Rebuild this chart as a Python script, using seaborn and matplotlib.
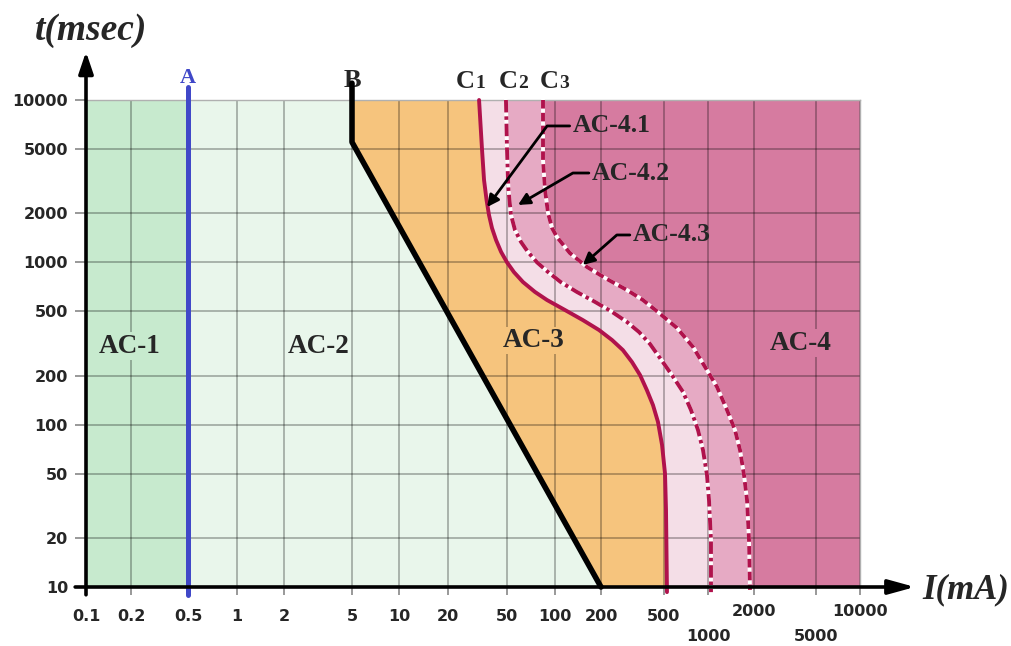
import numpy as np
import seaborn as sns
import matplotlib.pyplot as plt
from matplotlib.ticker import NullLocator

# axis ticks
I_TICKS = [0.1, 0.2, 0.5, 1, 2, 5, 10, 20, 50, 100, 200, 500, 1000, 2000, 5000, 10000]
I_LABELS = ["0.1", "0.2", "0.5", "1", "2", "5", "10", "20", "50", "100", "200", "500",
            "1000", "2000", "5000", "10000"]
T_TICKS = [10, 20, 50, 100, 200, 500, 1000, 2000, 5000, 10000]

# the current axis of the original is a hand-spaced log scale:
# where each tick sits along the axis (0 = left edge, 774 = right edge)
I_TICK_SPACING = [0, 45, 102, 151, 198, 266, 313, 362, 421, 469, 515, 578, 622, 668, 730, 774]

# boundary curves, current I (mA) vs time t (ms)
A_I = [0.5, 0.5]
A_T = [8.9, 12000]
B_I = [5, 5, 200]
B_T = [12700, 5500, 10]
C1_I = [32.4, 33.9, 35.0, 36.4, 37.8, 39.6, 42.2, 45.6, 50, 55.3, 63.0, 74.9, 89.1, 116, 152,
        194, 235, 275, 314, 353, 390, 426, 458, 486, 508, 516, 524]
C1_T = [10000, 5000, 3216, 2421, 1956, 1627, 1370, 1160, 1000, 870, 756, 657, 586, 509, 441,
        383, 332, 288, 243, 202, 163, 132, 104, 75, 50, 30, 9.3]
C2_I = [49.2, 50, 50.6, 51.1, 52.0, 53.0, 56.1, 61.2, 67.7, 77.1, 90.4, 109, 139, 183, 235,
        292, 348, 408, 472, 567, 675, 765, 854, 924, 984, 1015, 1046, 1046]
C2_T = [10000, 5000, 3460, 2790, 2330, 1956, 1582, 1335, 1158, 1000, 872, 756, 657, 570, 495,
        429, 372, 314, 257, 202, 159, 123, 92.7, 69.8, 49, 34.4, 19.5, 9.3]
C3_I = [84.1, 84.1, 86.6, 90.4, 95.8, 103, 125, 162, 218, 292, 368, 465, 614, 790, 954,
        1145, 1332, 1502, 1620, 1720, 1800, 1855, 1883]
C3_T = [10000, 4270, 2790, 2014, 1627, 1432, 1142, 936, 789, 675, 586, 488, 394, 301, 227,
        171, 123, 92.7, 69.8, 49, 34.4, 19.5, 9.6]

# zone labels
ZONES = ["AC-1", "AC-2", "AC-3", "AC-4"]
ZONE_I = [0.197, 3.2, 73, 4000]
ZONE_T = [305, 305, 330, 318]

COL_AC1 = "#c7eace"
COL_AC2 = "#e9f6eb"
COL_AC3 = "#f6c47d"
COL_AC41 = "#f4dee7"
COL_AC42 = "#e6aac4"
COL_AC4 = "#d67ba0"
COL_C = "#b0124c"
COL_A = "#4048c8"

# piecewise log scale through the tick positions, extended linearly outside
_log_t = np.concatenate([[-7], np.log10(I_TICKS), [10]])
_pos_t = np.concatenate([[-6 * 154.8], I_TICK_SPACING, [774 + 6 * 154.8]])


def i_forward(v):
    return np.interp(np.log10(np.clip(v, 1e-7, None)), _log_t, _pos_t)


def i_inverse(p):
    return 10 ** np.interp(p, _pos_t, _log_t)


sns.set_style("white")
plt.rcParams["font.family"] = ["Liberation Serif", "DejaVu Serif"]

fig = plt.figure(figsize=(10.11, 6.46), dpi=100)
ax = fig.add_axes([86 / 1011, 59 / 646, 774 / 1011, 487 / 646])
ax.set_xscale("function", functions=(i_forward, i_inverse))
ax.set_yscale("log")

# coloured zones
ax.axvspan(I_TICKS[0], A_I[0], color=COL_AC1, lw=0, zorder=0.2)
ax.fill(A_I + B_I, A_T + B_T, color=COL_AC2, lw=0, zorder=0.2)
ax.fill(B_I + C1_I[::-1], B_T + C1_T[::-1], color=COL_AC3, lw=0, zorder=0.2)
ax.fill(C1_I + C2_I[::-1], C1_T + C2_T[::-1], color=COL_AC41, lw=0, zorder=0.2)
ax.fill(C2_I + C3_I[::-1], C2_T + C3_T[::-1], color=COL_AC42, lw=0, zorder=0.2)
ax.fill(C3_I + [I_TICKS[-1], I_TICKS[-1]], C3_T + [T_TICKS[0], T_TICKS[-1]],
        color=COL_AC4, lw=0, zorder=0.2)

# boundary lines
sns.lineplot(x=A_I, y=A_T, sort=False, estimator=None, ax=ax, color=COL_A, linewidth=3.6,
             clip_on=False, zorder=4, solid_capstyle="round")
sns.lineplot(x=B_I, y=B_T, sort=False, estimator=None, ax=ax, color="black", linewidth=4,
             clip_on=False, zorder=4)
sns.lineplot(x=C1_I, y=C1_T, sort=False, estimator=None, ax=ax, color=COL_C, linewidth=2.8,
             clip_on=False, zorder=4)
sns.lineplot(x=C2_I, y=C2_T, sort=False, estimator=None, ax=ax, color="white", linewidth=2.8,
             clip_on=False, zorder=4)
sns.lineplot(x=C2_I, y=C2_T, sort=False, estimator=None, ax=ax, color=COL_C, linewidth=2.8,
             clip_on=False, zorder=4.1, linestyle=(0, (3.2, 1.0, 0.9, 1.0)))
sns.lineplot(x=C3_I, y=C3_T, sort=False, estimator=None, ax=ax, color="white", linewidth=2.8,
             clip_on=False, zorder=4)
sns.lineplot(x=C3_I, y=C3_T, sort=False, estimator=None, ax=ax, color=COL_C, linewidth=2.8,
             clip_on=False, zorder=4.1, linestyle=(0, (2.2, 1.1)))

ax.set_xlim(I_TICKS[0], I_TICKS[-1])
ax.set_ylim(T_TICKS[0], T_TICKS[-1])
ax.set_xticks(I_TICKS)
ax.set_xticklabels(I_LABELS, fontfamily="DejaVu Sans", fontweight="bold", fontsize=11.5)
ax.set_yticks(T_TICKS)
ax.set_yticklabels([str(t) for t in T_TICKS], fontfamily="DejaVu Sans", fontweight="bold",
                   fontsize=11.5)
ax.xaxis.set_minor_locator(NullLocator())
ax.yaxis.set_minor_locator(NullLocator())
ax.set_axisbelow(True)
ax.grid(True, which="major", color="black", alpha=0.32, lw=1.2)
ax.tick_params(axis="x", length=6, width=1.2, color="#888888", pad=9.5, direction="out",
               bottom=True)
ax.tick_params(axis="y", length=8, width=1.2, color="#888888", pad=5, direction="out",
               left=True)
ax.set_xlabel("")
ax.set_ylabel("")

# staggered current labels: 1000 and 5000 sit on a second row
xticks = ax.xaxis.get_major_ticks()
for i, lab in enumerate(I_LABELS):
    if lab in ("1000", "5000"):
        xticks[i].set_pad(24)
    elif lab in ("2000", "10000"):
        xticks[i].set_pad(6.5)

for side in ["left", "bottom"]:
    ax.spines[side].set_visible(False)
for side in ["top", "right"]:
    ax.spines[side].set_color("#b0b0b0")
    ax.spines[side].set_linewidth(1)

# axis arrows
ax.annotate("", xy=(0, 1.099), xytext=(0, -0.016), xycoords="axes fraction",
            arrowprops=dict(arrowstyle="-|>,head_length=0.65,head_width=0.22", lw=2.6,
                            color="black", shrinkA=0, shrinkB=0, mutation_scale=20),
            annotation_clip=False, zorder=6)
ax.annotate("", xy=(1.071, 0), xytext=(-0.014, 0), xycoords="axes fraction",
            arrowprops=dict(arrowstyle="-|>,head_length=0.8,head_width=0.22", lw=2.6,
                            color="black", shrinkA=0, shrinkB=0, mutation_scale=20),
            annotation_clip=False, zorder=6)

fig.text(91 / 1011, 1 - 30 / 646, "t(msec)", ha="center", va="center", fontsize=27,
         fontweight="bold", fontstyle="italic")
fig.text(922 / 1011, 1 - 590 / 646, "I(mA)", ha="left", va="center", fontsize=25,
         fontweight="bold", fontstyle="italic")

# curve names above the plot
top = ax.get_xaxis_transform()
ax.text(0.5, 1.035, "A", transform=top, ha="center", va="baseline", color=COL_A,
        fontsize=16, fontweight="bold")
ax.text(5, 1.027, "B", transform=top, ha="center", va="baseline", fontsize=19,
        fontweight="bold")
for num, xpos in zip(["1", "2", "3"], [28.6, 55, 100]):
    ax.annotate("C", xy=(xpos, 1.025), xycoords=top, xytext=(3, 0),
                textcoords="offset points", ha="right", va="baseline", fontsize=19,
                fontweight="bold", annotation_clip=False)
    ax.annotate(num, xy=(xpos, 1.025), xycoords=top, xytext=(3, 0),
                textcoords="offset points", ha="left", va="baseline", fontsize=14,
                fontweight="bold", annotation_clip=False)

# zone names
zone_cols = [COL_AC1, COL_AC2, COL_AC3, COL_AC4]
for name, xi, ti, c in zip(ZONES, ZONE_I, ZONE_T, zone_cols):
    ax.text(xi, ti, name, ha="center", va="center", fontsize=19.5, fontweight="bold",
            zorder=5, bbox=dict(facecolor=c, edgecolor="none", pad=1))

# sub-zone callouts
sub_names = ["AC-4.1", "AC-4.2", "AC-4.3"]
sub_text = [(131, 6920), (175, 3550), (319, 1474)]
sub_tip = [(36.7, 2190), (58.6, 2256), (152, 963)]
sub_angle = [53.5, 30.2, 41.4]
for name, xt, tip, ang in zip(sub_names, sub_text, sub_tip, sub_angle):
    ax.annotate(name, xy=tip, xytext=xt, ha="left", va="center", fontsize=18.5,
                fontweight="bold", zorder=6,
                arrowprops=dict(arrowstyle="-|>,head_length=0.5,head_width=0.25", lw=2,
                                color="black", shrinkA=0, shrinkB=0, mutation_scale=14,
                                relpos=(0, 0.5),
                                connectionstyle=f"angle,angleA=0,angleB={ang},rad=0"))

fig.savefig("out.png", dpi=100)
